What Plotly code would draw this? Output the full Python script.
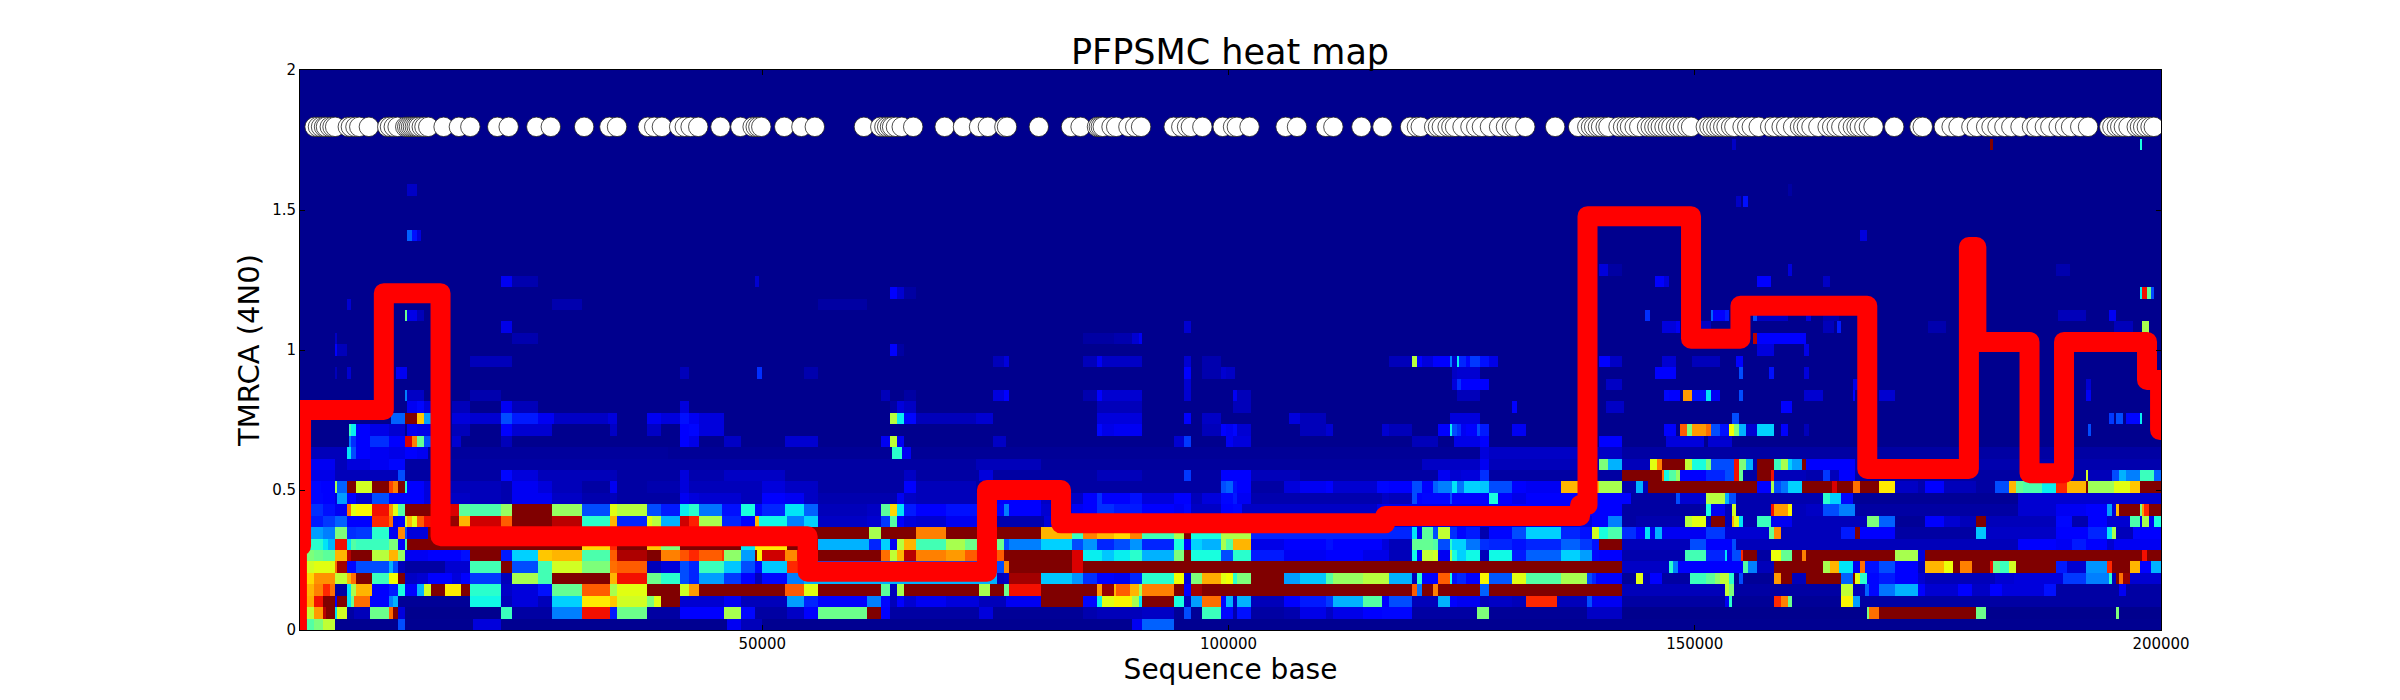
import numpy as np
import plotly.graph_objects as go

TITLE = "PFPSMC heat map"
X_LABEL = "Sequence base"
Y_LABEL = "TMRCA (4N0)"
X_TICKS = [50000, 100000, 150000, 200000]
Y_TICKS = [0, 0.5, 1, 1.5, 2]
Y_TICK_TEXT = ["0", "0.5", "1", "1.5", "2"]

# Heat rows from the bottom up: (end of run in kb, colour level)
ROW_0 = [(1.2,.25),(2,.45),(2.9,.5),(4.1,.58),(10.9,.015),(11.7,.2),(18.9,.015),(22,.08),(46.2,.015),(47.6,.1),(50,.05),(89.6,.015),(90.8,.1),(94.1,.22),(200,.015)]
ROW_1 = [(1.2,.58),(2,.58),(2.9,.75),(3.3,.95),(4.1,1),(4.5,.35),(5.5,.6),(6.3,.03),(8,.05),(10,.48),(10.4,.8),(10.9,1),(11.7,.08),(22,.012),(23.2,.42),(27.5,.03),(30.8,.25),(33.6,.9),(34.5,.15),(37.7,.48),(41.2,.03),(46,.12),(47.6,.55),(49.3,.13),(52.7,.03),(54.4,.06),(56,.12),(61.3,.48),(62.8,1),(63.65,.12),(73.1,.03),(74.6,.08),(84.4,.02),(86,.04),(90.8,.05),(94.1,.06),(95.1,.02),(96,.2),(97.2,.02),(99.2,.42),(100.4,.13),(101,.04),(102.5,.14),(106,.03),(107.6,.04),(110.5,.09),(111.3,.06),(114.4,.09),(116.5,.12),(119.7,.13),(126.8,.03),(128,.5),(138.5,.02),(142.1,.06),(168.4,.012),(168.7,.5),(169.6,.8),(180.1,1),(181.2,.48),(195.2,.012),(195.5,.5),(200,.012)]
ROW_2 = [(2,.73),(2.9,.9),(4.1,1),(4.4,.12),(5.5,1),(5.9,.35),(6.3,.48),(8,.8),(10,.12),(10.4,.25),(10.9,.3),(18.7,.02),(22,.37),(23.2,.05),(26,.08),(27.5,.05),(30.8,.33),(33.6,.66),(34.5,.7),(37.7,.6),(38.4,.5),(39.3,.62),(41.2,1),(46,.07),(47.6,.1),(52.7,.05),(54.4,.28),(56,.16),(61.3,.12),(62.8,.25),(63.65,.13),(64.4,.05),(65.3,.12),(66.4,.07),(69.65,.1),(73.15,.08),(76.2,.05),(80,.1),(84.4,1),(86.05,.13),(86.4,.36),(87.8,.62),(89.6,.65),(90.5,.55),(90.8,.35),(94.1,1),(95.2,.38),(96,.05),(97.2,.28),(99.2,.8),(99.6,.12),(100.4,.3),(101,.05),(102.5,.3),(106,.05),(107.6,.11),(110.5,.15),(111.3,.18),(114.4,.3),(116.5,.45),(117.3,.12),(119.7,.2),(122.4,.05),(123.65,.3),(124.45,.12),(126.9,.1),(128,.05),(130.4,.06),(132,.05),(135.2,.88),(138.4,.05),(138.9,.2),(142.1,.1),(153.3,.03),(153.6,.1),(154,.4),(158.4,.02),(159.2,.88),(160,.78),(160.4,.48),(165.6,.02),(166.9,.65),(167.6,.28),(200,.03)]
ROW_3 = [(2,.72),(2.9,.78),(3.6,.88),(4.1,.8),(5.5,.03),(6,.35),(6.4,.55),(8.07,.72),(10,.11),(10.9,.15),(11.6,.38),(12.9,.12),(13.65,.3),(14.4,.6),(16,1),(17.6,.66),(18.8,1),(22,.4),(23.2,.06),(26,.08),(27.5,.14),(30.8,.47),(33.65,.82),(34.5,.55),(37.7,.62),(41.25,1),(42.1,.6),(43.3,.75),(52.5,1),(54.4,.82),(56,.62),(62.8,1),(63.65,.46),(64.4,.05),(65.3,.55),(73.15,1),(74.5,.55),(76,1),(76.4,.48),(80,.9),(86.05,1),(86.4,.75),(87.7,.98),(88,.72),(89.55,.82),(90.5,.72),(90.8,.55),(94.1,.78),(95.1,1),(96,.12),(97.2,.97),(119.7,1),(120.1,.82),(120.8,.24),(122,1),(122.4,.78),(126.9,1),(128,.22),(142.1,1),(153.3,.05),(153.8,.58),(154.2,.5),(165.6,.03),(166.9,.58),(168.3,.05),(168.7,.22),(169.6,.13),(171.5,.24),(174,.3),(174.7,.11),(178.2,.07),(179.7,.12),(181.6,.06),(182.9,.11),(187.5,.08),(188.8,.14),(195.4,.03),(196.2,.1),(200,.03)]
ROW_4 = [(2,.68),(4.1,.76),(5.5,.58),(6,.72),(6.4,.8),(8.07,1),(10,.42),(10.9,.64),(11.6,1),(12.9,.06),(14.1,.07),(16.6,.11),(17.6,.08),(18.8,.12),(22,.18),(23.2,.05),(26,.55),(27.5,.43),(33.65,1),(34.5,.72),(37.7,.9),(39.2,.48),(41.25,.4),(42.1,.2),(43.3,.16),(46,.28),(47.6,.18),(49.3,.11),(49.9,.05),(52.75,.13),(54.4,.25),(75.2,.3),(75.9,.05),(76.4,.06),(80,.97),(83.2,.32),(84.4,.27),(86.05,.17),(87.7,.12),(89.55,.1),(90.8,.16),(94.1,.4),(95.2,.64),(96,.08),(97.2,.5),(99.2,.73),(99.6,.62),(100.45,.64),(101,.4),(102.5,.5),(106,1),(107.6,.28),(110.5,.32),(111.3,.45),(114.4,.53),(117.3,.57),(119.7,.3),(120.1,.05),(120.8,.4),(122.4,.11),(123.65,.82),(124.05,.38),(124.45,.14),(125.5,.16),(126.9,.12),(128,.65),(130.4,.21),(131.9,.62),(135.6,.45),(138.4,.55),(138.9,.2),(139.5,.16),(142.1,.11),(143.6,.02),(144.4,.62),(145.2,.05),(146.4,.11),(149.5,.03),(151.2,.42),(152.1,.46),(152.8,.52),(153.6,.58),(154.3,.4),(154.8,.02),(155.3,.2),(158.4,.02),(159.2,.75),(160.4,1),(162,.05),(165.6,1),(166.9,.22),(167.3,1),(167.6,.62),(168.4,.4),(169.6,.13),(171.5,.15),(174,.11),(174.7,.07),(182.1,.05),(184.1,.07),(189.5,.08),(192,.18),(194.4,.25),(194.8,.4),(195.2,.05),(195.5,1),(195.9,.8),(196.7,.98),(200,.07)]
ROW_5 = [(2,.6),(4.1,.62),(4.4,.8),(5.5,.97),(6.4,.13),(10,.2),(10.4,.3),(10.9,.2),(11.7,.05),(16,.03),(18.8,.07),(22,.43),(23.2,1),(26,.2),(27.5,.43),(30.8,.6),(33.65,.5),(34.5,.8),(37.7,.82),(39.2,.05),(41.25,.08),(42.1,.2),(43.3,.16),(46,.42),(47.6,.32),(49.3,.2),(49.9,.13),(52.75,.32),(54.4,.88),(75.9,.2),(76.4,.77),(83.3,1),(84.4,.92),(127,1),(142.1,1),(147.2,.06),(147.7,.4),(148.2,.25),(155.3,.12),(155.6,.45),(156.8,.25),(158.4,.05),(163.7,1),(164.4,.55),(165.4,.72),(166.9,.35),(167.6,.1),(168.1,.8),(168.4,.14),(169.6,.14),(171.5,.2),(174,.11),(174.7,.05),(176.7,.72),(177.6,.63),(178.4,1),(179.6,.78),(181.6,1),(182,.9),(182.6,.47),(183.6,.42),(184.4,.6),(188.8,1),(190,.15),(192,.07),(194.3,.27),(194.8,.88),(196.7,1),(197.6,.72),(198.9,.12),(200,.3)]
ROW_6 = [(2,.5),(2.9,.48),(4.1,.46),(5.5,.72),(6,.95),(8.07,1),(10,.57),(10.9,.72),(11.6,.53),(14.1,.1),(17.6,.12),(18.8,.14),(22,1),(23.2,.15),(26,.33),(27.5,.7),(30.8,.72),(33.65,.44),(34.5,.82),(37.7,.96),(39.2,1),(41.25,.78),(42.1,.83),(43.3,.88),(45.6,.82),(46,.87),(47.6,.52),(49.1,.28),(49.5,1),(49.9,.65),(52.5,.93),(53.8,.77),(56,.9),(62.8,1),(63.65,.8),(64.4,.58),(65.2,.72),(66.35,.95),(69.65,.78),(71.6,.75),(75.9,.82),(83.3,1),(84.4,.92),(86.4,.36),(87.8,.32),(89.55,.36),(90.8,.4),(94.1,.3),(95.2,.5),(96,1),(99.2,.38),(100.45,.2),(102.5,.4),(106,.15),(110.5,.1),(114.4,.11),(117.3,.09),(119.7,.05),(120.1,.37),(120.8,.11),(122,.58),(122.4,.6),(123.65,.1),(124.05,.55),(124.45,.38),(125.5,.33),(126.9,.37),(128,.05),(130.4,.37),(132,.15),(135.6,.22),(137.7,.33),(138.9,.28),(139.7,.13),(142.1,.11),(148.9,.04),(151.2,.43),(153.1,.16),(153.4,.35),(154,.1),(155,.2),(155.3,.88),(156.8,1),(158.1,.03),(159.2,.63),(160.4,.47),(161.5,1),(162,.78),(171.5,1),(174,.55),(174.7,.08),(197.9,1),(198.4,.9),(200,1)]
ROW_7 = [(1.2,.42),(2.9,.4),(3.5,.35),(4.1,.3),(5.5,.9),(6,.35),(6.4,.45),(10,.42),(10.9,.5),(11.6,.12),(12,.45),(30.8,1),(33.65,.68),(34.5,.88),(37.7,1),(39.2,.7),(41.25,.5),(47.6,1),(49.25,.35),(52.75,.66),(56,1),(61.4,.3),(62.8,.16),(63.65,.33),(64.4,.1),(65.2,.57),(66.35,.72),(69.65,.43),(71.6,.55),(75.9,.48),(76.4,.2),(80,.25),(83.3,.33),(84.4,.2),(86.05,.27),(87.8,.16),(89.55,.2),(90.8,.27),(94.1,.16),(95.2,.38),(96,.11),(97.15,.33),(99.2,.3),(99.6,.55),(100.45,.45),(102.5,.72),(106,.09),(110.5,.12),(111.3,.14),(116.5,.11),(117.3,.08),(119.7,.05),(122,.47),(122.4,.45),(123.65,.2),(124.05,.4),(125.5,.33),(127,.24),(128,.17),(130.4,.16),(132,.14),(135.6,.16),(137.7,.22),(138.9,.18),(139.7,.14),(142.1,1),(149.5,.05),(151.2,.2),(154,.12),(154.5,.2),(184.6,.05),(188.8,.12),(190.5,.1),(192,.15),(194.3,.11),(195,.07),(200,.1)]
ROW_8 = [(1.4,.35),(3,.28),(4.1,.25),(5.5,.5),(6.4,.17),(8.07,.18),(10,.4),(10.9,.1),(11.6,.77),(12,.2),(14.1,.08),(56,1),(61.4,1),(62.8,.55),(66.35,1),(69.65,.78),(73.15,1),(80,1),(83.2,.72),(84.4,.42),(86.05,.78),(87.7,.72),(89.55,.68),(90.8,.78),(94.1,.43),(95.2,.55),(96,1),(99.2,.38),(102.5,.56),(119.7,.16),(120.1,.35),(120.8,.1),(122,.46),(122.4,.2),(123.65,.58),(124.45,.17),(125.5,.13),(127,.15),(128,.04),(130.4,.13),(132,.2),(135.6,.33),(137.7,.16),(138.9,.14),(139.7,.6),(140.8,.38),(142.1,.44),(143.7,.17),(144.8,.12),(145.2,.35),(145.7,.1),(146.4,.3),(151.1,.1),(153.3,.18),(158,.07),(158.4,.47),(159.2,.77),(165.6,.05),(167.1,.15),(167.6,1),(171.5,.11),(180.1,.03),(181.2,.32),(188.8,.06),(190,.12),(192.2,.11),(194.3,.16),(194.8,.35),(195.2,.55),(196.9,.05),(197.6,.13),(200,.11)]
ROW_9 = [(1.4,.2),(3,.15),(4.1,.18),(5.5,.22),(8.07,.11),(10,.88),(10.4,.8),(10.9,.1),(11.6,.11),(12,.6),(12.5,.72),(12.9,.62),(13.65,.82),(14.4,.9),(17.5,.98),(18.7,.72),(22,.93),(23.2,.82),(27.5,1),(30.8,.95),(33.65,.4),(34.5,.72),(37.7,.16),(38.2,.62),(39.2,.57),(41.25,.3),(42.1,.93),(43.3,.89),(45.6,.55),(47.6,.16),(49.3,.11),(49.6,.72),(52.75,.37),(54.4,.25),(56,.33),(61.3,.06),(62.8,.07),(63.65,.18),(64.4,.45),(65.2,.11),(66.35,.08),(69.65,.07),(75.2,.1),(80.3,.04),(138.9,.08),(140.7,.11),(142.1,.25),(143.7,.03),(148.9,.04),(149.6,.57),(151.2,.62),(151.6,.05),(153.2,1),(154,.05),(154.3,.72),(154.8,.62),(155.3,.35),(156.8,.04),(158.1,.42),(160.5,.1),(168.4,.05),(169.6,.5),(171.5,.22),(174.7,.02),(176.7,.11),(178.4,.07),(180.1,.05),(181.2,1),(188.8,.05),(190.5,.13),(192.2,.04),(194.3,.12),(196.8,.07),(197.6,.44),(197.9,.1),(198.8,.55),(199.2,.1),(200,.38)]
ROW_10 = [(2.9,.17),(4.1,.14),(4.5,.1),(5.5,.1),(6,.8),(6.4,.62),(8.07,.65),(10,.9),(10.4,.75),(10.9,.62),(11.6,.45),(14.4,1),(17.5,.92),(18.8,.46),(22,.44),(23.2,.53),(27.5,1),(30.8,.53),(33.65,.2),(34.5,.62),(37.7,.57),(39.2,.2),(41.25,.15),(42.1,.36),(43.3,.4),(45.6,.24),(47.6,.14),(49.3,.38),(49.9,.13),(52.5,.16),(54.4,.35),(56,.22),(61.3,.05),(62.8,.06),(63.6,.46),(64.4,.68),(65.2,.35),(66.35,.15),(69.65,.12),(75.2,.14),(75.9,.13),(76.4,.25),(80,.11),(83.2,.07),(84.4,.1),(86.05,.12),(87.7,.17),(90.8,.15),(94.1,.11),(95.1,.1),(96,.13),(99.2,.06),(100.45,.12),(101.5,.13),(116,.06),(127,.09),(130.4,.1),(142.1,.12),(151.2,.03),(151.6,.38),(153.3,.1),(154,.05),(154.5,.6),(158.1,.04),(158.5,.9),(160,.75),(160.4,.65),(162,.05),(163.7,.06),(165.4,.2),(167.1,.25),(184.6,.03),(188.8,.07),(192,.1),(194.3,.12),(194.8,.28),(195.2,.08),(195.5,.72),(197.6,1),(197.9,.5),(198.3,.75),(198.8,.88),(200,1)]
ROW_11 = [(2.9,.13),(4.1,.12),(4.5,.08),(5.5,.28),(6.4,.11),(8.07,.07),(10,.2),(10.4,.12),(11.7,.12),(13.65,.12),(14.4,.08),(18.8,.06),(22,.05),(23.2,.04),(27.5,.1),(30.8,.06),(33.65,.04),(34.5,.05),(41.25,.03),(42.1,.1),(43.3,.08),(47.6,.07),(49.9,.05),(52.5,.11),(54.4,.1),(56,.06),(64.4,.04),(65.3,.1),(66.35,.06),(75.2,.05),(80,.12),(84.4,.06),(86.05,.12),(86.4,.17),(89.55,.12),(90.8,.14),(94.1,.08),(95.2,.11),(96,.12),(97.15,.05),(99.2,.08),(100.45,.13),(101,.15),(102.5,.1),(116.5,.04),(117.3,.06),(119.7,.05),(120.1,.2),(120.8,.12),(123.65,.13),(124.05,.2),(128,.12),(129,.38),(130.4,.11),(132,.09),(143.2,.11),(147.9,.03),(148.4,.2),(151.2,.07),(153.2,.57),(153.6,.3),(154.5,.2),(163.7,.04),(164.4,.4),(165.6,.33),(167,.13),(184.6,.02),(200,.07)]
ROW_12 = [(2.6,.13),(4.1,.11),(4.5,.55),(5.5,.22),(6.4,1),(8.07,.6),(10,1),(10.4,.85),(10.9,.78),(11.6,1),(12,.4),(13.65,.11),(14.4,.08),(22,.05),(23.2,.04),(26,.1),(27.5,.08),(30.8,.05),(33.65,.03),(34.5,.1),(37.7,.03),(41.25,.04),(42.1,.08),(49.9,.05),(52.5,.08),(56,.06),(65.3,.03),(66.35,.11),(73,.05),(99.2,.03),(99.6,.2),(100.45,.22),(101,.14),(102.5,.11),(106,.03),(107.6,.08),(110.5,.1),(111.3,.11),(116,.07),(117.3,.13),(119.7,.11),(120.8,.2),(122,.12),(122.4,.22),(124.05,.25),(124.45,.35),(125.3,.24),(126.9,.33),(128,.32),(130.4,.2),(132,.12),(135.6,.1),(139.7,.72),(142.1,.55),(143.6,.04),(144.4,.3),(145,.05),(156.8,1),(158.1,.12),(158.4,.55),(159.2,.2),(160,.24),(161.4,.33),(164.8,1),(165.3,.92),(166.9,1),(167.6,.8),(169.6,1),(171.5,.66),(174,.06),(174.7,.04),(176.7,.11),(180.1,.05),(182.1,.03),(183.6,.2),(184.4,.72),(185.3,.47),(187.3,.44),(188.8,.36),(190,.88),(192,.72),(192.2,1),(195,.54),(196.7,.62),(197.6,.7),(200,1)]
ROW_13 = [(4.1,.09),(11,.05),(11.6,.2),(22,.03),(23.2,.13),(26,.08),(34.5,.05),(41.25,.03),(42.1,.08),(46,.04),(52.5,.06),(65.3,.03),(66.35,.06),(73.1,.03),(74.6,.08),(86,.03),(90.8,.05),(95.2,.03),(96,.18),(99.2,.03),(100.45,.12),(102.5,.11),(107.6,.05),(122.4,.03),(123.65,.1),(125,.07),(126.9,.08),(128,.17),(142.1,.03),(144.6,1),(146.4,1),(146.7,.8),(147.2,.37),(147.9,.45),(148.4,.53),(149.5,.13),(151.1,.12),(153.1,.16),(154.3,.2),(154.8,.9),(155.3,.47),(156.8,.03),(158.1,1),(158.4,.9),(162,.05),(163.7,.04),(164.4,.18),(165.4,.05),(167.1,.12),(192,.03),(192.2,.6),(194.7,.05),(195.4,.2),(196.2,.3),(197.6,.25),(199.1,.42),(200,.22)]
ROW_14 = [(4.1,.1),(5.5,.05),(8,.08),(10,.1),(11.6,.13),(22,.03),(73,.03),(80,.05),(120.8,.025),(127,.06),(128,.1),(139.7,.05),(140.7,.5),(142.1,.3),(145.2,.05),(145.9,.62),(146.4,.78),(148.9,1),(149.6,.58),(151.2,.38),(151.6,.5),(154.3,.2),(154.8,.9),(155.4,.5),(156.1,.3),(156.8,.04),(158.4,1),(159.2,.42),(160,.55),(160.4,.33),(161.5,.28),(162,1),(165.4,.11),(167.1,.12),(200,.04)]
ROW_15 = [(5.5,.05),(6,.35),(6.4,.2),(8,.11),(10,.1),(11.6,.09),(12.9,.11),(14.1,.1),(40,.025),(64,.02),(65,.4),(66,.1),(127,.02),(128,.08),(142.1,.06),(200,.03)]

# Sparse upper rows: row number -> (start kb, end kb, level)
UPPER_RUNS = {
    16: [(5.6,6,.25),(6,6.4,.17),(6.4,8,.11),(8,10,.17),(10,11.6,.11),(11.6,12.5,.92),(12.5,12.9,.78),(12.9,13.65,.47),(13.65,14.4,.2),(16.6,17.6,.07),(22,23.2,.05),(41.25,42.1,.11),(42.1,43.3,.09),(46,47.6,.06),(52.5,56,.07),(62.7,63.65,.1),(63.65,64.4,.58),(64.4,65.3,.1),(74.6,76.2,.06),(94.1,95.2,.07),(95.2,96,.18),(99.6,100.45,.1),(100.45,102.5,.08),(119.7,122.4,.05),(124.1,127,.09),(127,128,.12),(139.7,142.1,.12),(147,151,.08),(151.5,154,.07)],
    17: [(5.6,6,.42),(6,6.4,.36),(6.4,8,.11),(8,10,.09),(10,11.6,.07),(12,12.9,.1),(12.9,14.4,.09),(16.6,18.8,.05),(22,23.2,.12),(23.2,27.5,.07),(33.65,34.5,.06),(37.7,39.2,.06),(41.25,42.1,.11),(42.1,43.3,.13),(43.3,46,.08),(86,86.4,.13),(86.4,87.8,.09),(87.8,90.8,.1),(97.15,99.2,.05),(99.2,99.6,.12),(99.6,100.45,.1),(100.45,101,.13),(101,102.5,.07),(107.6,110.5,.05),(110.5,111.3,.07),(116.5,117.3,.07),(117.3,119.7,.05),(122.4,123.65,.11),(123.65,124.05,.36),(124.05,124.45,.2),(124.45,124.9,.17),(124.9,125.5,.1),(125.5,126.7,.11),(126.7,127,.2),(127,128,.15),(130.4,132,.1),(146.6,147.9,.12),(148.4,149.1,.82),(149.1,149.6,.5),(149.6,151.2,.75),(151.2,151.6,.8),(151.6,152.8,.2),(152.8,153.6,.14),(153.7,154.2,.64),(154.2,154.8,.5),(154.8,155.5,.3),(155.5,156.8,.07),(156.8,158.4,.33),(159.2,160,.12),(161.7,162.2,.05),(192.2,192.5,.2)],
    18: [(10.1,11.6,.22),(11.6,12.9,1),(12.9,13.65,.7),(13.65,14.4,.28),(16.6,18.8,.08),(18.8,22,.07),(22,23.2,.2),(23.2,26,.15),(26,27.7,.1),(27.7,33.5,.06),(33.5,34.5,.08),(37.7,39.2,.1),(39.2,41.25,.08),(41.25,42.1,.14),(42.1,43.3,.1),(43.3,46,.08),(63.65,64.4,.57),(64.4,65.3,.36),(65.3,66.35,.13),(66.35,73,.05),(73,74.6,.07),(86,90.8,.08),(95.2,96,.11),(97.15,99.2,.06),(106.4,107.6,.08),(107.6,110.5,.05),(123.65,127,.08),(153.9,154.8,.2),(194.4,194.9,.18),(195.2,195.9,.2),(196.2,197.6,.13),(197.6,197.9,.36)],
    19: [(12,12.9,.1),(12.9,13.65,.13),(13.65,14.4,.08),(16.6,18.8,.05),(22,23.2,.1),(23.2,26,.05),(41.25,42.1,.08),(63.65,64.4,.03),(64.4,65.3,.08),(65.3,66.35,.06),(86,90.8,.05),(100.45,102.5,.05),(130.4,131,.11),(140.4,142.5,.06),(159.2,160.5,.12)],
    20: [(11.6,12,.25),(12,13.65,.06),(18.8,22,.04),(62.7,63.65,.05),(65.3,66.35,.03),(74.6,75.9,.08),(75.9,76.4,.11),(84.4,86,.04),(86,86.4,.11),(86.4,87.8,.07),(87.8,90.8,.07),(95.2,96,.07),(100.45,101,.1),(101,102.5,.05),(124.5,127,.05),(146.6,147.2,.13),(147.2,148.4,.12),(148.8,149.6,.75),(149.6,151.2,.14),(151.2,151.6,.35),(151.6,152.8,.1),(154.8,155.3,.2),(161.7,163.7,.07),(166.9,167.3,.12),(169.6,171.5,.07),(192,192.5,.1)],
    21: [(95.2,96,.07),(124.05,124.45,.08),(124.45,124.9,.17),(124.9,127,.12),(127,128,.11),(140.5,142.2,.06),(167,167.6,.09),(192,192.5,.07)],
    22: [(4.1,4.5,.05),(5.5,6,.07),(10.8,12,.1),(41.25,42.1,.05),(49.5,50,.17),(54.4,56,.04),(95.2,96,.11),(97.15,99.2,.04),(99.2,99.6,.07),(99.6,100.8,.06),(124.05,124.45,.06),(124.45,127,.07),(145.7,147.9,.11),(154.8,155.3,.2),(158,158.4,.14),(161.7,162.2,.08)],
    23: [(18.8,22,.05),(22,23.2,.05),(74.6,76,.05),(76,76.4,.08),(84.4,86,.05),(86,86.4,.1),(86.4,90.8,.06),(95.2,96,.07),(97.15,99.2,.04),(117.3,119.7,.05),(119.7,120.1,.57),(120.1,120.8,.12),(120.8,122,.08),(122,123.65,.11),(123.65,124.05,.25),(124.05,124.45,.07),(124.45,124.7,.36),(124.7,125.5,.16),(125.5,126,.13),(126,127,.18),(127,128,.14),(128,129,.09),(139.7,141,.11),(141,142.1,.06),(146.4,147.9,.07),(149.6,152.6,.05),(154.5,155.3,.11)],
    24: [(4.1,4.5,.12),(4.5,5.5,.05),(63.65,64.4,.12),(64.4,65.2,.03),(156.8,158.4,.08),(161.7,162.2,.09)],
    25: [(4.1,4.5,.06),(23.2,26,.04),(84.4,87.8,.03),(87.8,89.6,.04),(89.6,90.5,.07),(90.5,90.8,.1),(156.1,156.8,.95),(156.8,162,.12)],
    26: [(22,23.2,.09),(95.2,96,.07),(146.4,147.9,.08),(147.9,148.4,.1),(150.8,151.6,.06),(163.7,165,.05),(165.2,165.6,.15),(175,177,.04),(195,197,.05),(198,198.8,.55)],
    27: [(11.6,12,.48),(12,12.9,.09),(12.9,13.65,.05),(144.6,144.8,1),(144.8,145.1,.17),(151.6,152,.22),(152,153.1,.11),(153.3,153.8,.15),(156.1,156.8,.2),(156.8,160,.06),(162,162.5,.08),(163.7,165.4,.04),(189,192,.05),(194.5,195.2,.1)],
    28: [(5.5,6,.07),(27.5,30.8,.04),(56,61.3,.03)],
    29: [(63.65,64.4,.12),(64.4,65.3,.07),(65.3,66.35,.03),(197.7,198,.36),(198,198.4,.9),(198.4,198.9,.47),(198.9,199.2,.2)],
    30: [(22,23.2,.1),(23.2,26,.04),(49.3,49.7,.07),(145.7,146.6,.12),(146.6,147.2,.08),(156.8,158.1,.12),(163.7,164.4,.06)],
    31: [(139.7,140.7,.08),(140.7,142.3,.03),(160,160.5,.08),(188.8,190.3,.04)],
    34: [(12,12.4,.22),(12.4,12.9,.14),(12.9,13.5,.08),(167.6,168.4,.08)],
    37: [(154.5,154.9,.06),(155.3,155.6,.14)],
    38: [(12,12.9,.06),(160,160.5,.03)],
    42: [(181.6,181.9,1),(197.7,198,.38),(154,154.5,.06)],
}

# Red line: step vertices
LINE_X = [100, 100, 540, 540, 9420, 15500, 54870, 74100, 82040, 116800, 137700, 138500, 149600, 154900, 168500, 179400, 180200, 185900, 189600, 198500, 199900, 199900]
LINE_Y = [0, 0.3, 0.3, 0.786, 1.203, 0.335, 0.208, 0.5, 0.381, 0.407, 0.446, 1.478, 1.04, 1.158, 0.575, 1.368, 1.029, 0.56, 1.029, 0.893, 0.714, 0.714]

# Sites along the top
SITE_KB = [2.0,2.36,2.69,3.01,3.22,3.63,3.92,4.2,5.56,5.89,6.38,6.79,7.82,9.79,10.08,10.49,10.9,11.72,11.93,12.13,12.34,12.54,12.75,12.95,13.16,13.49,13.78,14.19,15.83,17.47,18.7,21.58,22.81,25.77,27.33,30.9,33.61,34.43,37.72,38.42,39.24,41.09,41.7,42.32,43.14,45.52,47.66,48.97,49.3,49.59,49.9,52.36,54.2,55.64,60.9,62.66,63.1,63.4,63.7,63.93,64.34,64.96,66.19,69.56,71.53,73.25,74.2,75.97,76.25,79.66,83.11,84.14,85.9,86.1,86.31,86.52,87.46,87.96,89.27,90.0,90.63,94.12,94.94,95.56,95.97,97.2,99.38,100.49,100.9,102.26,106.12,107.35,110.43,111.25,114.25,116.51,119.47,120.21,120.62,122.06,122.47,122.88,123.5,123.9,124.3,125.1,125.95,126.57,127.18,128.04,129.02,129.76,130.4,130.75,131.83,135.03,137.5,138.48,138.88,139.22,139.62,139.96,140.45,140.75,141.83,142.32,142.72,143.06,143.56,144.05,144.89,145.28,145.67,146.02,146.36,146.76,147.15,147.5,147.99,148.33,148.73,149.22,149.61,151.19,151.58,151.93,152.32,152.67,153.06,153.41,153.9,154.25,155.13,155.63,156.12,156.86,158.09,158.58,159.32,159.81,160.55,161.29,161.64,162.03,162.52,163.26,164.25,164.74,165.23,165.72,166.46,166.96,167.35,167.7,168.19,168.68,169.17,171.39,174.1,174.45,176.71,177.55,178.29,179.67,180.26,181.25,181.83,182.47,183.21,183.95,184.94,186.17,186.66,187.55,188.14,189.03,189.72,190.36,191.34,192.18,194.45,194.79,195.28,195.63,196.02,196.52,197.4,197.75,198.09,198.48,198.88,199.23]
SITE_Y = 1.797

ROWS = [ROW_0, ROW_1, ROW_2, ROW_3, ROW_4, ROW_5, ROW_6, ROW_7, ROW_8, ROW_9, ROW_10, ROW_11, ROW_12, ROW_13, ROW_14, ROW_15]
N_ROWS = 49
X_START_KB, X_END_KB, BIN_KB = 0.43, 200.0, 0.25
x_edges_kb = np.arange(X_START_KB, X_END_KB + BIN_KB, BIN_KB)
centres = (x_edges_kb[:-1] + x_edges_kb[1:]) / 2
z = np.full((N_ROWS, centres.size), 0.012)
for i, row in enumerate(ROWS):
    start = 0.0
    for end, level in row:
        z[i, (centres >= start) & (centres < end)] = level
        start = end
for i, runs in UPPER_RUNS.items():
    for s, e, level in runs:
        z[i, (centres >= s) & (centres < e)] = level
y_edges = np.linspace(0, 2, N_ROWS + 1)

JET = [[0,"rgb(0,0,128)"],[.11,"rgb(0,0,255)"],[.125,"rgb(0,0,255)"],[.34,"rgb(0,219,255)"],[.35,"rgb(0,229,247)"],[.375,"rgb(20,255,226)"],[.5,"rgb(125,255,122)"],[.64,"rgb(242,255,0)"],[.66,"rgb(255,234,0)"],[.89,"rgb(255,30,0)"],[.91,"rgb(230,0,0)"],[1,"rgb(128,0,0)"]]

fig = go.Figure()
fig.add_trace(go.Heatmap(x=x_edges_kb * 1000, y=y_edges, z=z, zmin=0, zmax=1, colorscale=JET, showscale=False, hoverinfo="skip"))
fig.add_trace(go.Scatter(x=LINE_X, y=LINE_Y, mode="lines", line=dict(color="#ff0000", width=20, shape="hv"), hoverinfo="skip"))
fig.add_trace(go.Scatter(x=[k * 1000 for k in SITE_KB], y=[SITE_Y] * len(SITE_KB), mode="markers",
                         marker=dict(color="white", size=19.5, line=dict(color="#222222", width=0.8)), hoverinfo="skip"))
FONT = "DejaVu Sans"
axis = dict(showgrid=False, zeroline=False, showline=True, linecolor="black", linewidth=1, mirror="allticks",
            ticks="inside", ticklen=5, tickcolor="black", tickfont=dict(family=FONT, size=15, color="black"))
fig.update_layout(
    width=2400, height=700, autosize=False, plot_bgcolor="#00007f", paper_bgcolor="white", showlegend=False,
    margin=dict(l=300, r=239, t=70, b=70, pad=0),
    font=dict(family=FONT, color="black"),
    title=dict(text=TITLE, x=0.5125, xanchor="center", y=0.926, yanchor="middle", font=dict(family=FONT, size=35, color="black")),
    xaxis=dict(axis, range=[X_START_KB * 1000, 200000], tickvals=X_TICKS, ticktext=[str(v) for v in X_TICKS],
               title=dict(text=X_LABEL, font=dict(family=FONT, size=28, color="black"), standoff=6)),
    yaxis=dict(axis, range=[0, 2], tickvals=Y_TICKS, ticktext=Y_TICK_TEXT,
               title=dict(text=Y_LABEL, font=dict(family=FONT, size=29, color="black"), standoff=3)),
)
fig.write_html("out.html", config={"displayModeBar": False},
               post_script="document.body.style.margin='0';document.querySelectorAll('.js-line').forEach(function(p){p.style.strokeLinejoin='round';p.style.strokeLinecap='round';});")
